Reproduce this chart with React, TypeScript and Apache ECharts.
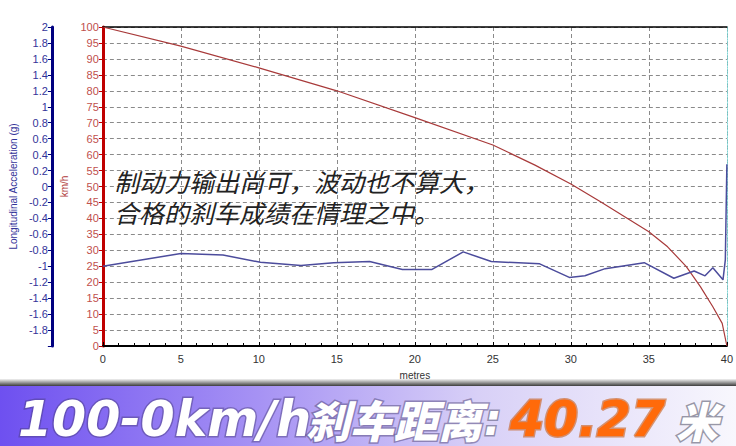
import React, { useEffect, useRef } from "react";
import * as echarts from "echarts";

// Speed trace (km/h) vs distance (m)
const speedDist = [0, 5, 10, 15, 20, 25, 27.7, 30, 31.9, 35, 36.2, 37.4, 38.3, 39.1, 39.7, 40];
const speedKmh = [100, 94, 87.2, 80, 71.6, 63, 56.7, 50.8, 45.2, 35.8, 31.1, 24.9, 18.6, 12.3, 7.1, 0];

// Longitudinal acceleration (g) vs distance (m)
const accelDist = [0, 5, 7.7, 10.1, 12.7, 14.8, 17.1, 19.2, 21.1, 23.1, 24.9, 28.0, 29.9, 30.9, 32.2, 34.7, 36.6, 37.9, 38.6, 39.1, 39.75, 39.9, 40.0];
const accelG = [-1.0, -0.84, -0.86, -0.95, -0.99, -0.955, -0.94, -1.04, -1.04, -0.82, -0.94, -0.97, -1.14, -1.12, -1.03, -0.955, -1.15, -1.06, -1.12, -1.02, -1.17, -0.92, 0.28];

const annotationLines = ["制动力输出尚可，波动也不算大，", "合格的刹车成绩在情理之中。"];
const bannerParts = { lead: "100-0km/h", cn: "刹车距离", colon: ":", value: "40.27", unit: "米" };

export default function App() {
  const ref = useRef<HTMLDivElement>(null);
  useEffect(() => {
    if (!ref.current) return;
    const chart = echarts.init(ref.current, null, { renderer: "svg" });
    const grid = "#8a8a8a";
    const bannerText = (text: string, x: number, font: string, fill: string, outline: string) => ({
      type: "text",
      x,
      y: 419,
      z: 6,
      style: {
        text,
        font,
        fill,
        stroke: outline,
        lineWidth: 3,
        strokeFirst: true,
        align: "left",
        verticalAlign: "middle",
        textAlign: "left",
        textVerticalAlign: "middle",
        shadowColor: "rgba(0,0,0,0.5)",
        shadowBlur: 2,
        shadowOffsetX: 2,
        shadowOffsetY: 2,
      },
    });
    const option: any = {
      animation: false,
      backgroundColor: "#ffffff",
      textStyle: { fontFamily: "Liberation Sans" },
      grid: { left: 99, right: 9, top: 27, bottom: 100 },
      xAxis: [
        {
          type: "value",
          min: 0,
          max: 40,
          interval: 5,
          position: "bottom",
          axisLine: { show: true, onZero: false, lineStyle: { color: "#000", width: 2 } },
          axisTick: { show: true, inside: true, length: 4, lineStyle: { color: "#000" } },
          minorTick: { show: true, splitNumber: 5, length: 3, lineStyle: { color: "#000" } },
          axisLabel: { color: "#333", fontSize: 11, margin: 7 },
          splitLine: { show: true, lineStyle: { color: grid, type: [4, 3], width: 1 } },
          name: "metres",
          nameLocation: "middle",
          nameGap: 24,
          nameTextStyle: { color: "#333", fontSize: 10 },
        },
        {
          type: "value",
          min: 0,
          max: 40,
          position: "top",
          axisLine: { show: true, onZero: false, lineStyle: { color: "#000", width: 1.5 } },
          axisTick: { show: false },
          axisLabel: { show: false },
          splitLine: { show: false },
        },
      ],
      yAxis: [
        {
          type: "value",
          min: 0,
          max: 100,
          interval: 5,
          position: "left",
          axisLine: { show: true, onZero: false, lineStyle: { color: "#c00000", width: 3 } },
          axisTick: { show: true, length: 4, lineStyle: { color: "#c00000" } },
          axisLabel: { color: "#c0504d", fontSize: 11, margin: 4 },
          splitLine: { show: true, lineStyle: { color: grid, type: [4, 3], width: 1 } },
          name: "km/h",
          nameLocation: "middle",
          nameGap: 19,
          nameTextStyle: { color: "#b03a3a", fontSize: 10 },
        },
        {
          type: "value",
          min: -2,
          max: 2,
          interval: 0.2,
          position: "left",
          offset: 51,
          axisLine: { show: true, onZero: false, lineStyle: { color: "#000080", width: 3 } },
          axisTick: { show: true, length: 4, lineStyle: { color: "#000080" } },
          axisLabel: {
            color: "#333399",
            fontSize: 11,
            margin: 4,
            formatter: (v: number) => (Math.abs(v + 2) < 1e-6 ? "" : String(Math.round(v * 10) / 10)),
          },
          splitLine: { show: false },
          name: "Longitudinal Acceleration (g)",
          nameLocation: "middle",
          nameGap: 31,
          nameTextStyle: { color: "#333399", fontSize: 10 },
        },
        {
          type: "value",
          min: 0,
          max: 1,
          position: "right",
          axisLine: { show: true, onZero: false, lineStyle: { color: "#7fd3d3", type: "dotted", width: 1 } },
          axisTick: { show: false },
          axisLabel: { show: false },
          splitLine: { show: false },
        },
      ],
      series: [
        {
          type: "line",
          xAxisIndex: 0,
          yAxisIndex: 0,
          data: speedDist.map((d, i) => [d, speedKmh[i]]),
          symbol: "none",
          smooth: false,
          lineStyle: { color: "#a83a3a", width: 1.2 },
          z: 3,
        },
        {
          type: "line",
          xAxisIndex: 0,
          yAxisIndex: 1,
          data: accelDist.map((d, i) => [d, accelG[i]]),
          symbol: "none",
          lineStyle: { color: "#4c4c9c", width: 1.5 },
          z: 4,
        },
      ],
      graphic: [
        ...annotationLines.map((t, i) => ({
          type: "text",
          x: 114,
          y: 181 + i * 31,
          z: 10,
          style: {
            text: t,
            font: 'italic 25px "Noto Sans CJK SC"',
            fill: "#222222",
            align: "left",
            verticalAlign: "middle",
            textAlign: "left",
            textVerticalAlign: "middle",
            shadowColor: "rgba(255,255,120,1)",
            shadowBlur: 6,
          },
        })),
        {
          type: "rect",
          shape: { x: 0, y: 379, width: 736, height: 7 },
          style: {
            fill: {
              type: "linear",
              x: 0,
              y: 0,
              x2: 0,
              y2: 1,
              colorStops: [
                { offset: 0, color: "#f2f2f2" },
                { offset: 0.5, color: "#9a9a9a" },
                { offset: 1, color: "#3c3c3c" },
              ],
            },
          },
          z: 5,
        },
        {
          type: "rect",
          shape: { x: 0, y: 386, width: 736, height: 60 },
          style: {
            fill: {
              type: "linear",
              x: 0,
              y: 0,
              x2: 1,
              y2: 0,
              colorStops: [
                { offset: 0, color: "#6e50f0" },
                { offset: 0.35, color: "#a692f4" },
                { offset: 0.65, color: "#d8d0f7" },
                { offset: 1, color: "#f8f7fd" },
              ],
            },
          },
          z: 5,
        },
        bannerText(bannerParts.lead, 18, 'italic bold 49px "DejaVu Sans"', "#ffffff", "rgba(70,60,120,0.45)"),
        bannerText(bannerParts.cn, 306, 'italic 900 44px "Noto Sans CJK SC"', "#ffffff", "rgba(80,70,120,0.5)"),
        bannerText(bannerParts.colon, 484, 'italic bold 44px "DejaVu Sans"', "#ffffff", "rgba(80,80,110,0.55)"),
        bannerText(bannerParts.value, 510, 'italic bold 49px "DejaVu Sans"', "#ff6a0a", "rgba(200,90,20,0.6)"),
        bannerText(bannerParts.unit, 676, 'italic 900 42px "Noto Sans CJK SC"', "#ffffff", "rgba(90,90,110,0.6)"),
      ],
    };
    chart.setOption(option);
    return () => chart.dispose();
  }, []);
  return (
    <div
      ref={ref}
      style={{ position: "fixed", left: 0, top: 0, width: 736, height: 446 }}
    />
  );
}
